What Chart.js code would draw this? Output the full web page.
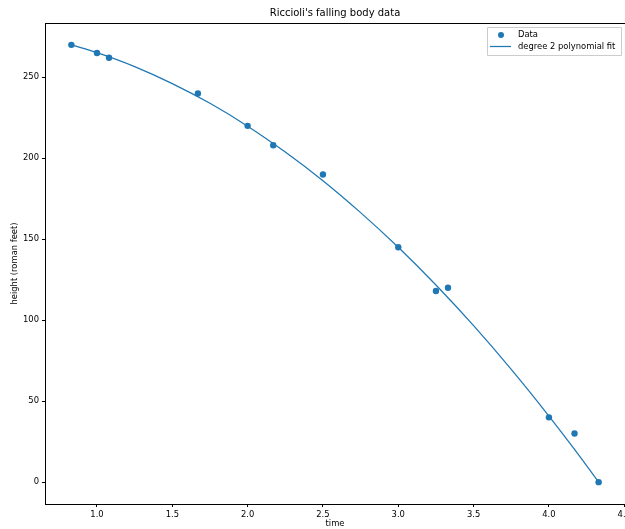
<!DOCTYPE html>
<html>
<head>
<meta charset="utf-8">
<script src="https://cdn.jsdelivr.net/npm/chart.js@4/dist/chart.umd.min.js"></script>
<style>
html,body{margin:0;padding:0;overflow:hidden;background:#fff;width:625px;height:529px;}
canvas{display:block;}
</style>
</head>
<body>
<canvas id="c" width="640" height="529" style="width:640px;height:529px"></canvas>
<script>
// Riccioli's falling body data
const dataTimes   = [0.83, 1.0, 1.08, 1.67, 2.0, 2.17, 2.5, 3.0, 3.25, 3.33, 4.0, 4.17, 4.33];
const dataHeights = [270, 265, 262, 240, 220, 208, 190, 145, 118, 120, 40, 30, 0];
// degree 2 polynomial fit curve
const fitTimes    = [0.83, 1.0, 1.25, 1.5, 1.75, 2.0, 2.25, 2.5, 2.75, 3.0, 3.25, 3.5, 3.75, 4.0, 4.17, 4.33];
const fitHeights  = [270, 265.2, 256.6, 246.1, 233.9, 219.8, 203.8, 186.1, 166.4, 145.0, 121.7, 96.6, 69.6, 40.8, 20.2, 0];
const xTicks = [1.0, 1.5, 2.0, 2.5, 3.0, 3.5, 4.0, 4.5];
const yTicks = [0, 50, 100, 150, 200, 250];
const titleText = "Riccioli's falling body data";
const xLabel = "time";
const yLabel = "height (roman feet)";
const seriesLabels = ["Data", "degree 2 polynomial fit"];

const BLUE = '#1f77b4';
const FONT = '"DejaVu Sans", sans-serif';
const FS = 8.4;

const deco = {
  id: 'deco',
  afterDraw(chart) {
    const {ctx, chartArea: a} = chart;
    ctx.save();
    // frame
    ctx.strokeStyle = '#000';
    ctx.lineWidth = 1;
    ctx.strokeRect(Math.round(a.left) + 0.5, Math.round(a.top) + 0.5, Math.round(a.right - a.left), Math.round(a.bottom - a.top));
    // title
    ctx.fillStyle = '#000';
    ctx.font = '10px ' + FONT;
    ctx.textAlign = 'center';
    ctx.textBaseline = 'middle';
    ctx.fillText(titleText, 335, 13);
    // axis labels
    ctx.font = FS + 'px ' + FONT;
    ctx.fillText(xLabel, 335, 524);
    ctx.save();
    ctx.translate(15, (a.top + a.bottom) / 2);
    ctx.rotate(-Math.PI / 2);
    ctx.fillText(yLabel, 0, 0);
    ctx.restore();
    // legend
    const bx = 487.5, by = 27.5, bw = 134, bh = 28;
    ctx.fillStyle = 'rgba(255,255,255,0.8)';
    ctx.strokeStyle = '#ccc';
    ctx.lineWidth = 1;
    ctx.beginPath();
    ctx.rect(bx, by, bw, bh);
    ctx.fill();
    ctx.stroke();
    ctx.fillStyle = BLUE;
    ctx.beginPath();
    ctx.arc(501, 35, 3.0, 0, Math.PI * 2);
    ctx.fill();
    ctx.strokeStyle = BLUE;
    ctx.lineWidth = 1.25;
    ctx.beginPath();
    ctx.moveTo(490, 46.5);
    ctx.lineTo(511, 46.5);
    ctx.stroke();
    ctx.fillStyle = '#000';
    ctx.textAlign = 'left';
    ctx.font = FS + 'px ' + FONT;
    ctx.fillText(seriesLabels[0], 518, 35);
    ctx.fillText(seriesLabels[1], 518, 47);
    ctx.restore();
  }
};

new Chart(document.getElementById('c'), {
  data: {
    datasets: [
      {
        type: 'line',
        label: seriesLabels[1],
        data: fitTimes.map((t, i) => ({x: t, y: fitHeights[i]})),
        borderColor: BLUE,
        borderWidth: 1.25,
        pointRadius: 0,
        fill: false,
        cubicInterpolationMode: 'monotone',
        order: 2
      },
      {
        type: 'scatter',
        label: seriesLabels[0],
        data: dataTimes.map((t, i) => ({x: t, y: dataHeights[i]})),
        backgroundColor: BLUE,
        borderColor: BLUE,
        pointRadius: 3.2,
        pointBorderWidth: 0,
        order: 1
      }
    ]
  },
  options: {
    responsive: false,
    animation: false,
    layout: {padding: {left: 0, top: 23, right: 15, bottom: 0}},
    plugins: {legend: {display: false}, title: {display: false}, tooltip: {enabled: false}},
    scales: {
      x: {
        type: 'linear',
        min: 0.655, max: 4.505,
        afterBuildTicks: s => { s.ticks = xTicks.map(v => ({value: v})); },
        afterFit: s => { s.height = 25; },
        ticks: {
          color: '#000', font: {family: FONT, size: FS}, padding: 3,
          maxRotation: 0, autoSkip: false,
          callback: v => Number(v).toFixed(1)
        },
        grid: {display: true, drawOnChartArea: false, drawTicks: true, tickLength: 3, color: '#000', tickWidth: 1},
        border: {display: true, color: '#000', width: 1}
      },
      y: {
        type: 'linear',
        min: -13.5, max: 283.5,
        afterBuildTicks: s => { s.ticks = yTicks.map(v => ({value: v})); },
        afterFit: s => { s.width = 45; },
        ticks: {
          color: '#000', font: {family: FONT, size: FS}, padding: 3,
          callback: v => String(v)
        },
        grid: {display: true, drawOnChartArea: false, drawTicks: true, tickLength: 3, color: '#000', tickWidth: 1},
        border: {display: true, color: '#000', width: 1}
      }
    }
  },
  plugins: [deco]
});
</script>
</body>
</html>
